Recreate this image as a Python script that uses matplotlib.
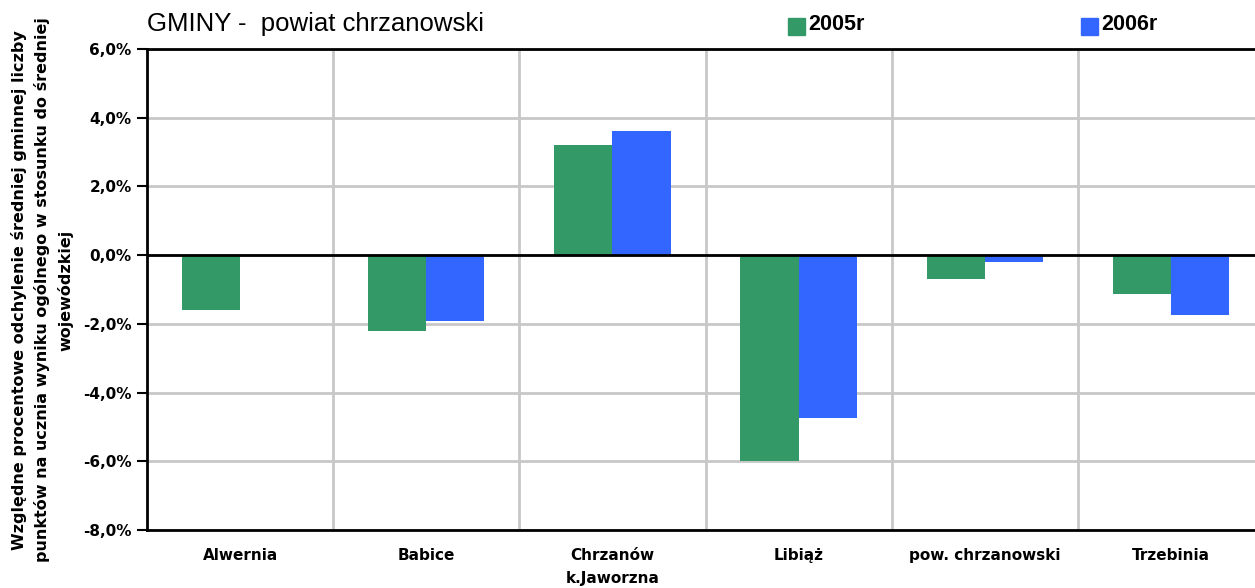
import matplotlib
matplotlib.use("Agg")
import matplotlib.pyplot as plt
from matplotlib.patches import Rectangle
from matplotlib.ticker import FuncFormatter
import numpy as np

categories = ["Alwernia", "Babice", "Chrzanów\nk.Jaworzna", "Libiąż", "pow. chrzanowski", "Trzebinia"]
years = ["2005r", "2006r"]
vals_2005 = [-1.6, -2.2, 3.2, -6.0, -0.7, -1.12]
vals_2006 = [0.0, -1.91, 3.6, -4.75, -0.2, -1.74]
colors = ["#339966", "#3366FF"]

plt.rcParams["font.family"] = ["DejaVu Sans"]

fig = plt.figure(figsize=(12.55, 5.88), dpi=100)
ax = fig.add_axes([147 / 1255, 1 - 530 / 588, (1264 - 147) / 1255, (530 - 49) / 588])

x = np.arange(len(categories))
w = 0.312
ax.bar(x - w / 2, vals_2005, w, color=colors[0], zorder=3)
ax.bar(x + w / 2, vals_2006, w, color=colors[1], zorder=3)

ax.set_xlim(-0.5, len(categories) - 0.5)
ax.set_ylim(-8, 6)
ax.set_yticks(np.arange(-8, 7, 2))
ax.yaxis.set_major_formatter(FuncFormatter(lambda v, p: f"{v:.1f}%".replace(".", ",")))
ax.set_xticks(x)
ax.set_xticklabels(categories, fontweight="bold", fontsize=11, linespacing=1.65)
ax.tick_params(axis="x", length=0, pad=13)
ax.tick_params(axis="y", length=7, width=1.5, labelsize=11, pad=4)
for lbl in ax.get_yticklabels():
    lbl.set_fontweight("bold")

# grid
for xb in np.arange(0.5, len(categories) - 0.5, 1):
    ax.axvline(xb, color="#c8c8c8", lw=2, zorder=1)
ax.yaxis.grid(True, color="#c8c8c8", lw=2, zorder=1)
ax.set_axisbelow(True)
ax.axhline(0, color="black", lw=2, zorder=4)

for side in ["left", "bottom", "top"]:
    ax.spines[side].set_linewidth(2)
    ax.spines[side].set_color("black")
ax.spines["right"].set_visible(False)

fig.text(0.0338, 0.507,
         "Względne procentowe odchylenie średniej gminnej liczby\n"
         "punktów na ucznia wyniku ogólnego w stosunku do średniej\n"
         "wojewódzkiej",
         rotation=90, ha="center", va="center", fontsize=11.5, fontweight="bold",
         linespacing=1.55)

fig.text(147 / 1255, 1 - 24 / 588, "GMINY -  powiat chrzanowski", fontsize=18.5,
         ha="left", va="center", family=["Liberation Sans", "DejaVu Sans"])

# legend
for lx, name, c in [(788, years[0], colors[0]), (1081, years[1], colors[1])]:
    fig.patches.append(Rectangle((lx / 1255, 1 - 35 / 588), 17 / 1255, 17 / 588,
                                 transform=fig.transFigure, color=c, figure=fig))
    fig.text((lx + 20) / 1255, 1 - 25 / 588, name, fontsize=15.5, fontweight="bold",
             ha="left", va="center", family=["Liberation Sans", "DejaVu Sans"])

fig.savefig("out.png", dpi=100)
